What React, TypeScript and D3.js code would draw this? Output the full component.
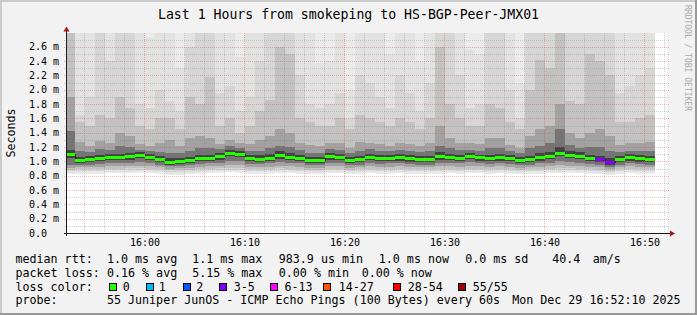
import React from "react";
import * as d3 from "d3";

// ---------------- data ----------------
const titleText = "Last 1 Hours from smokeping to HS-BGP-Peer-JMX01";
const yAxisTitle = "Seconds";
const watermark = "RRDTOOL / TOBI OETIKER";

const timeTickLabels = ["16:00", "16:10", "16:20", "16:30", "16:40", "16:50"];
const timeTickMinutes = [60, 70, 80, 90, 100, 110]; // minutes after 15:00
const yTickValues = [0, 0.2, 0.4, 0.6, 0.8, 1.0, 1.2, 1.4, 1.6, 1.8, 2.0, 2.2, 2.4, 2.6];
const yTickLabels = ["0.0", "0.2 m", "0.4 m", "0.6 m", "0.8 m", "1.0 m", "1.2 m", "1.4 m", "1.6 m", "1.8 m", "2.0 m", "2.2 m", "2.4 m", "2.6 m"];

// median rtt per 1-minute step (ms), first step ends 15:53
const median = [
  1.092, 1.013, 1.027, 1.041, 1.055, 1.055, 1.065, 1.083, 1.055, 1.023,
  0.990, 1.004, 1.013, 1.041, 1.046, 1.065, 1.111, 1.097, 1.041, 1.032,
  1.046, 1.078, 1.060, 1.046, 1.013, 1.013, 1.065, 1.055, 1.013, 1.027,
  1.055, 1.041, 1.046, 1.051, 1.037, 1.027, 1.027, 1.065, 1.055, 1.046,
  1.069, 1.051, 1.041, 1.051, 1.041, 1.013, 1.027, 1.051, 1.069, 1.116,
  1.088, 1.069, 1.041, 1.023, 0.985, 1.023, 1.051, 1.037, 1.027,
];
const lossPings = [
  0, 0, 0, 0, 0, 0, 0, 0, 0, 0,
  0, 0, 0, 0, 0, 0, 0, 0, 0, 0,
  0, 0, 0, 0, 0, 0, 0, 0, 0, 0,
  0, 0, 0, 0, 0, 0, 0, 0, 0, 0,
  0, 0, 0, 0, 0, 0, 0, 0, 0, 0,
  0, 0, 0, 3, 3, 0, 0, 0, 0,
];

// smoke: upper ping quantiles (outermost hi1 .. innermost hi7)
const hi1 = [3.8, 3.1, 3.12, 3.3, 3.05, 3.3, 3.32, 3.1, 2.92, 3.1, 3.08, 2.9, 3.3, 3.34, 3.3, 3.1, 3.12, 2.95, 3.1, 3.3, 3.3, 3.5, 3.52, 3.1, 3.06, 2.92, 2.95, 3.1, 2.9, 3.1, 3.12, 3.1, 2.94, 3.1, 3.08, 2.92, 3.1, 3.5, 3.3, 3.1, 2.95, 2.93, 3.3, 3.32, 3.1, 2.9, 3.3, 3.5, 3.52, 3.8, 3.3, 3.32, 3.5, 3.5, 3.48, 3.1, 3.12, 3.1, 3.1];
const hi2 = [3.6, 3.0, 2.95, 3.2, 2.9, 3.2, 3.25, 2.9, 2.72, 3.0, 2.95, 2.3, 3.1, 3.2, 3.2, 2.9, 2.95, 2.45, 3.0, 3.1, 3.2, 3.4, 3.4, 3.0, 2.9, 2.37, 2.4, 2.95, 2.0, 3.0, 2.95, 2.9, 2.5, 3.0, 2.9, 2.4, 2.95, 3.4, 3.2, 3.0, 2.55, 2.5, 3.15, 3.1, 2.9, 2.1, 3.1, 3.3, 3.3, 3.6, 3.2, 3.1, 3.4, 3.4, 3.3, 2.9, 2.95, 3.0, 3.0];
const hi3 = [3.3, 1.65, 1.9, 2.9, 2.4, 3.0, 2.95, 1.8, 1.75, 2.0, 1.84, 1.7, 2.6, 2.95, 3.0, 1.95, 2.05, 1.7, 1.9, 2.4, 2.9, 3.1, 3.1, 2.2, 1.8, 1.75, 1.8, 1.95, 1.6, 2.2, 2.1, 1.9, 1.75, 2.2, 1.95, 1.7, 2.1, 3.1, 2.9, 2.2, 1.75, 1.8, 2.85, 2.85, 2.0, 1.6, 2.8, 3.0, 3.0, 3.3, 2.9, 2.85, 3.1, 3.1, 3.0, 1.95, 2.05, 2.2, 2.3];
const hi4 = [3.0, 1.55, 1.5, 1.65, 1.6, 1.9, 1.75, 1.5, 1.45, 1.6, 1.6, 1.45, 1.9, 1.8, 2.18, 1.5, 1.6, 1.4, 1.5, 1.7, 1.85, 2.6, 2.5, 1.6, 1.55, 1.5, 1.5, 1.6, 1.45, 1.65, 1.6, 1.55, 1.5, 1.6, 1.55, 1.45, 1.6, 2.6, 1.8, 1.6, 1.5, 1.5, 1.8, 1.75, 1.55, 1.45, 2.0, 2.42, 2.3, 2.9, 1.84, 1.8, 2.5, 2.4, 2.2, 1.55, 1.55, 1.6, 1.65];
const hi5 = [1.9, 1.27, 1.22, 1.28, 1.26, 1.4, 1.36, 1.24, 1.22, 1.25, 1.3, 1.21, 1.32, 1.36, 1.32, 1.24, 1.3, 1.26, 1.24, 1.3, 1.36, 1.45, 1.4, 1.25, 1.23, 1.22, 1.25, 1.25, 1.19, 1.27, 1.26, 1.24, 1.22, 1.26, 1.24, 1.21, 1.25, 1.5, 1.32, 1.25, 1.25, 1.24, 1.33, 1.32, 1.23, 1.19, 1.36, 1.45, 1.5, 1.8, 1.4, 1.32, 1.4, 1.45, 1.36, 1.23, 1.25, 1.26, 1.27];
const hi6 = [1.42, 1.15, 1.13, 1.17, 1.16, 1.21, 1.2, 1.16, 1.14, 1.13, 1.12, 1.11, 1.14, 1.18, 1.18, 1.17, 1.21, 1.19, 1.14, 1.14, 1.18, 1.22, 1.2, 1.16, 1.12, 1.12, 1.17, 1.16, 1.11, 1.14, 1.17, 1.15, 1.15, 1.16, 1.14, 1.13, 1.14, 1.22, 1.18, 1.16, 1.16, 1.15, 1.18, 1.18, 1.14, 1.11, 1.18, 1.22, 1.25, 1.45, 1.23, 1.19, 1.2, 1.2, 1.15, 1.13, 1.15, 1.15, 1.15];
const hi7 = [1.16, 1.06, 1.075, 1.09, 1.1, 1.105, 1.115, 1.13, 1.1, 1.07, 1.045, 1.05, 1.065, 1.095, 1.095, 1.115, 1.16, 1.145, 1.09, 1.085, 1.1, 1.14, 1.12, 1.095, 1.06, 1.06, 1.11, 1.1, 1.055, 1.075, 1.105, 1.09, 1.09, 1.1, 1.085, 1.075, 1.08, 1.125, 1.105, 1.095, 1.115, 1.095, 1.095, 1.1, 1.085, 1.055, 1.08, 1.11, 1.13, 1.2, 1.15, 1.125, 1.095, 1.08, 1.045, 1.07, 1.1, 1.085, 1.075];
// smoke: lower ping quantiles (outermost lo1 .. innermost lo7)
const lo1 = [0.82, 0.825, 0.83, 0.83, 0.835, 0.835, 0.835, 0.84, 0.835, 0.825, 0.81, 0.815, 0.82, 0.83, 0.835, 0.84, 0.845, 0.84, 0.83, 0.825, 0.83, 0.835, 0.835, 0.83, 0.82, 0.82, 0.835, 0.835, 0.82, 0.825, 0.835, 0.83, 0.83, 0.835, 0.825, 0.825, 0.825, 0.83, 0.835, 0.83, 0.835, 0.835, 0.83, 0.835, 0.83, 0.82, 0.825, 0.83, 0.835, 0.835, 0.84, 0.835, 0.83, 0.82, 0.805, 0.825, 0.835, 0.825, 0.825];
const lo2 = [0.84, 0.845, 0.85, 0.85, 0.855, 0.855, 0.855, 0.86, 0.855, 0.845, 0.83, 0.835, 0.84, 0.85, 0.855, 0.86, 0.865, 0.86, 0.85, 0.845, 0.85, 0.855, 0.855, 0.85, 0.84, 0.84, 0.855, 0.855, 0.84, 0.845, 0.855, 0.85, 0.85, 0.855, 0.845, 0.845, 0.845, 0.85, 0.855, 0.85, 0.855, 0.855, 0.85, 0.855, 0.85, 0.84, 0.845, 0.85, 0.855, 0.855, 0.86, 0.855, 0.85, 0.84, 0.825, 0.845, 0.855, 0.845, 0.845];
const lo3 = [0.86, 0.865, 0.87, 0.87, 0.875, 0.875, 0.875, 0.88, 0.875, 0.865, 0.85, 0.855, 0.86, 0.87, 0.875, 0.88, 0.885, 0.88, 0.87, 0.865, 0.87, 0.875, 0.875, 0.87, 0.86, 0.86, 0.875, 0.875, 0.86, 0.865, 0.875, 0.87, 0.87, 0.875, 0.865, 0.865, 0.865, 0.87, 0.875, 0.87, 0.875, 0.875, 0.87, 0.875, 0.87, 0.86, 0.865, 0.87, 0.875, 0.875, 0.88, 0.875, 0.87, 0.86, 0.845, 0.865, 0.875, 0.865, 0.865];
const lo4 = [0.885, 0.89, 0.895, 0.9, 0.9, 0.9, 0.905, 0.905, 0.9, 0.89, 0.875, 0.88, 0.885, 0.895, 0.9, 0.905, 0.91, 0.91, 0.895, 0.89, 0.895, 0.905, 0.9, 0.895, 0.885, 0.885, 0.9, 0.9, 0.885, 0.89, 0.9, 0.895, 0.895, 0.9, 0.89, 0.89, 0.89, 0.9, 0.9, 0.895, 0.9, 0.9, 0.895, 0.9, 0.895, 0.885, 0.89, 0.895, 0.9, 0.905, 0.905, 0.9, 0.895, 0.885, 0.87, 0.89, 0.9, 0.89, 0.89];
const lo5 = [0.91, 0.915, 0.92, 0.925, 0.93, 0.93, 0.935, 0.94, 0.93, 0.92, 0.9, 0.905, 0.91, 0.925, 0.93, 0.935, 0.95, 0.945, 0.925, 0.92, 0.925, 0.94, 0.935, 0.925, 0.91, 0.91, 0.935, 0.93, 0.91, 0.915, 0.93, 0.925, 0.925, 0.93, 0.92, 0.915, 0.915, 0.93, 0.93, 0.925, 0.935, 0.93, 0.925, 0.93, 0.925, 0.91, 0.915, 0.925, 0.935, 0.945, 0.94, 0.935, 0.925, 0.915, 0.895, 0.915, 0.93, 0.92, 0.915];
const lo6 = [0.95, 0.945, 0.955, 0.965, 0.975, 0.975, 0.98, 0.99, 0.975, 0.955, 0.93, 0.94, 0.945, 0.965, 0.97, 0.98, 1.01, 1.0, 0.965, 0.96, 0.97, 0.99, 0.98, 0.97, 0.945, 0.945, 0.98, 0.975, 0.945, 0.955, 0.975, 0.965, 0.97, 0.97, 0.96, 0.955, 0.955, 0.975, 0.975, 0.97, 0.985, 0.97, 0.965, 0.97, 0.965, 0.945, 0.955, 0.97, 0.98, 1.0, 0.99, 0.98, 0.965, 0.95, 0.92, 0.95, 0.97, 0.96, 0.955];
const lo7 = [1.04, 0.975, 0.99, 1.0, 1.015, 1.015, 1.025, 1.04, 1.015, 0.985, 0.955, 0.965, 0.975, 1.0, 1.005, 1.025, 1.07, 1.055, 1.0, 0.99, 1.005, 1.035, 1.02, 1.005, 0.975, 0.975, 1.025, 1.015, 0.975, 0.99, 1.015, 1.0, 1.005, 1.01, 0.995, 0.99, 0.99, 1.025, 1.015, 1.005, 1.03, 1.01, 1.0, 1.01, 1.0, 0.975, 0.99, 1.01, 1.03, 1.07, 1.045, 1.03, 1.0, 0.985, 0.95, 0.985, 1.01, 0.995, 0.99];

const lossColorLabels = ["0", "1", "2", "3-5", "6-13", "14-27", "28-54", "55/55"];
const lossColors = ["#26ff00", "#00b8ff", "#0059ff", "#7e00ff", "#ff00ff", "#ff5500", "#ff0000", "#a10000"];
const lossThresholds = [0, 1, 2, 3, 6, 14, 28, 55];

const rttHeader = "median rtt:";
const rttStats = ["1.0 ms avg", "1.1 ms max", "983.9 us min", "1.0 ms now", "0.0 ms sd", "40.4", "am/s"];
const lossHeader = "packet loss:";
const lossStats = ["0.16 % avg", "5.15 % max", "0.00 % min", "0.00 % now"];
const lossColorHeader = "loss color:";
const probeHeader = "probe:";
const probeText = "55 Juniper JunOS - ICMP Echo Pings (100 Bytes) every 60s";
const dateText = "Mon Dec 29 16:52:10 2025";

// ---------------- layout ----------------
const W = 697;
const H = 315;
const L = 67, R = 667, T = 33, B = 233;
const startMinute = 52.2; // 15:52:12
const endMinute = 112.2;
const firstColumnMinute = 52;
const yMax = 2.7907;

const rttX = [107, 192.2, 278.8, 378.8, 465.2, 552.2, 592.8];
const lossX = [107, 192.2, 278.8, 361.7];
const boxX = [109, 146, 182.7, 219.3, 270, 322.7, 393.3, 458.3];
const boxLabelX = [122.8, 158.8, 196.2, 233.8, 284.5, 338.8, 407.8, 472.8];
const lineY = [263, 277, 290.7, 304.4];

const smokeShades = ["#ebebeb", "#e2e2e2", "#d6d6d6", "#c2c2c2", "#a2a2a2", "#747474", "#424242"];
const smokeHi = [hi1, hi2, hi3, hi4, hi5, hi6, hi7];
const smokeLo = [lo1, lo2, lo3, lo4, lo5, lo6, lo7];

const MONO = "'DejaVu Sans Mono', monospace";

function lossIndex(p: number) {
  let idx = 0;
  lossThresholds.forEach((t, i) => {
    if (p >= t) idx = i;
  });
  return idx;
}

export default function App() {
  const x = d3.scaleLinear().domain([startMinute, endMinute]).range([L, R]);
  const y = d3.scaleLinear().domain([0, yMax]).range([B, T]);

  const cols = median.map((m, j) => {
    const x0 = x(Math.max(startMinute, firstColumnMinute + j));
    const x1 = x(firstColumnMinute + j + 1);
    return { j, m, x0, x1 };
  });

  const minorH = d3.range(1, 28).filter((k) => k % 2 === 1).map((k) => k / 10);
  const majorH = yTickValues.filter((v) => v > 0);
  const minorV = d3.range(54, 113, 2).filter((mm) => mm % 10 !== 0);
  const majorV = timeTickMinutes;

  const stepPts: [number, number][] = [];
  cols.forEach((c) => {
    stepPts.push([c.x0, y(c.m)]);
  });
  const lastC = cols[cols.length - 1];
  stepPts.push([lastC.x1, y(lastC.m)]);
  const stepLine = d3.line().curve(d3.curveStepAfter)(stepPts) || "";

  const minorStroke = "rgba(128,128,128,0.36)";
  const majorStroke = "rgba(222,80,80,0.42)";

  return (
    <svg
      width={W}
      height={H}
      viewBox={`0 0 ${W} ${H}`}
      style={{ position: "absolute", left: 0, top: 0, display: "block" }}
      fontFamily={MONO}
    >
      <defs>
        <clipPath id="canvasClip">
          <rect x={L} y={T} width={R - L} height={B - T} />
        </clipPath>
      </defs>
      {/* background and 3D frame */}
      <rect x={0} y={0} width={W} height={H} fill="#f2f2f2" />
      <rect x={0} y={0} width={W} height={2} fill="#cbcbcb" />
      <rect x={0} y={0} width={2} height={H} fill="#cbcbcb" />
      <rect x={0} y={H - 2} width={W} height={2} fill="#999999" />
      <rect x={W - 2} y={0} width={2} height={H} fill="#999999" />

      {/* canvas */}
      <rect x={L} y={T} width={R - L} height={B - T} fill="#ffffff" />

      {/* smoke */}
      <g clipPath="url(#canvasClip)" shapeRendering="crispEdges">
        {smokeShades.map((shade, li) =>
          cols.map((c) => {
            const yt = y(smokeHi[li][c.j]);
            const yb = y(smokeLo[li][c.j]);
            return (
              <rect
                key={`s${li}-${c.j}`}
                x={c.x0}
                y={yt}
                width={c.x1 - c.x0}
                height={Math.max(0, yb - yt)}
                fill={shade}
              />
            );
          })
        )}
      </g>

      {/* grid */}
      <g strokeWidth={1} strokeDasharray="1,1" shapeRendering="crispEdges">
        {minorH.map((v) => (
          <line key={`mh${v}`} x1={L - 3} x2={R + 2} y1={Math.round(y(v)) + 0.5} y2={Math.round(y(v)) + 0.5} stroke={minorStroke} />
        ))}
        {minorV.map((mm) => (
          <line key={`mv${mm}`} x1={Math.round(x(mm)) - 0.5} x2={Math.round(x(mm)) - 0.5} y1={T} y2={B + 2} stroke={minorStroke} />
        ))}
        {majorH.map((v) => (
          <line key={`Mh${v}`} x1={L - 3} x2={R + 2} y1={Math.round(y(v)) + 0.5} y2={Math.round(y(v)) + 0.5} stroke={majorStroke} />
        ))}
        {majorV.map((mm) => (
          <line key={`Mv${mm}`} x1={Math.round(x(mm)) - 0.5} x2={Math.round(x(mm)) - 0.5} y1={T} y2={B + 3} stroke={majorStroke} />
        ))}
      </g>

      {/* median line and loss-coloured band */}
      <g clipPath="url(#canvasClip)">
        <path d={stepLine} fill="none" stroke="#202020" strokeWidth={1} shapeRendering="crispEdges" />
        {cols.map((c) => (
          <rect
            key={`m${c.j}`}
            x={c.x0}
            y={y(c.m) - 1.5}
            width={c.x1 - c.x0}
            height={3}
            fill={lossColors[lossIndex(lossPings[c.j])]}
            shapeRendering="crispEdges"
          />
        ))}
      </g>

      {/* axes */}
      <g shapeRendering="crispEdges">
        <line x1={L - 0.5} x2={L - 0.5} y1={B + 3} y2={T - 4} stroke="#1a1a1a" strokeWidth={1} />
        <line x1={L - 3} x2={R + 5} y1={B + 0.5} y2={B + 0.5} stroke="#1a1a1a" strokeWidth={1} />
      </g>
      <path d={`M${L - 3.5},${T - 1.5} L${L + 2.5},${T - 1.5} L${L - 0.5},${T - 6.5} Z`} fill="#a01818" />
      <path d={`M${R + 3},${B - 2.5} L${R + 3},${B + 3.5} L${R + 8},${B + 0.5} Z`} fill="#a01818" />

      {/* y tick labels */}
      <g fontSize={10} fill="#000">
        {yTickValues.map((v, i) => (
          <text key={`yl${i}`} x={29} y={y(v) + 3.5}>
            {yTickLabels[i]}
          </text>
        ))}
      </g>
      {/* x tick labels */}
      <g fontSize={10} fill="#000" textAnchor="middle">
        {timeTickMinutes.map((mm, i) => (
          <text key={`xl${i}`} x={x(mm)} y={246}>
            {timeTickLabels[i]}
          </text>
        ))}
      </g>

      {/* title, axis title, watermark */}
      <text x={W / 2} y={18.5} fontSize={13.2} textAnchor="middle" fill="#000">
        {titleText}
      </text>
      <text transform="translate(15,133) rotate(-90)" fontSize={11.66} textAnchor="middle" fill="#000">
        {yAxisTitle}
      </text>
      <text transform="translate(685,5) rotate(90)" fontSize={8} fill="#a8a8a8">
        {watermark}
      </text>

      {/* legend */}
      <g fontSize={11.66} fill="#000" style={{ whiteSpace: "pre" }}>
        <text x={15.5} y={lineY[0]}>{rttHeader}</text>
        {rttStats.map((s, i) => (
          <text key={`r${i}`} x={rttX[i]} y={lineY[0]}>{s}</text>
        ))}
        <text x={15.5} y={lineY[1]}>{lossHeader}</text>
        {lossStats.map((s, i) => (
          <text key={`l${i}`} x={lossX[i]} y={lineY[1]}>{s}</text>
        ))}
        <text x={15.5} y={lineY[2]}>{lossColorHeader}</text>
        {lossColorLabels.map((s, i) => (
          <g key={`lc${i}`}>
            <rect x={boxX[i] + 0.5} y={283.5} width={7} height={7} fill={lossColors[i]} stroke="#000" strokeWidth={1} shapeRendering="crispEdges" />
            <text x={boxLabelX[i]} y={lineY[2]}>{s}</text>
          </g>
        ))}
        <text x={15.5} y={lineY[3]}>{probeHeader}</text>
        <text x={107} y={lineY[3]}>{probeText}</text>
        <text x={512.2} y={lineY[3]}>{dateText}</text>
      </g>
    </svg>
  );
}
